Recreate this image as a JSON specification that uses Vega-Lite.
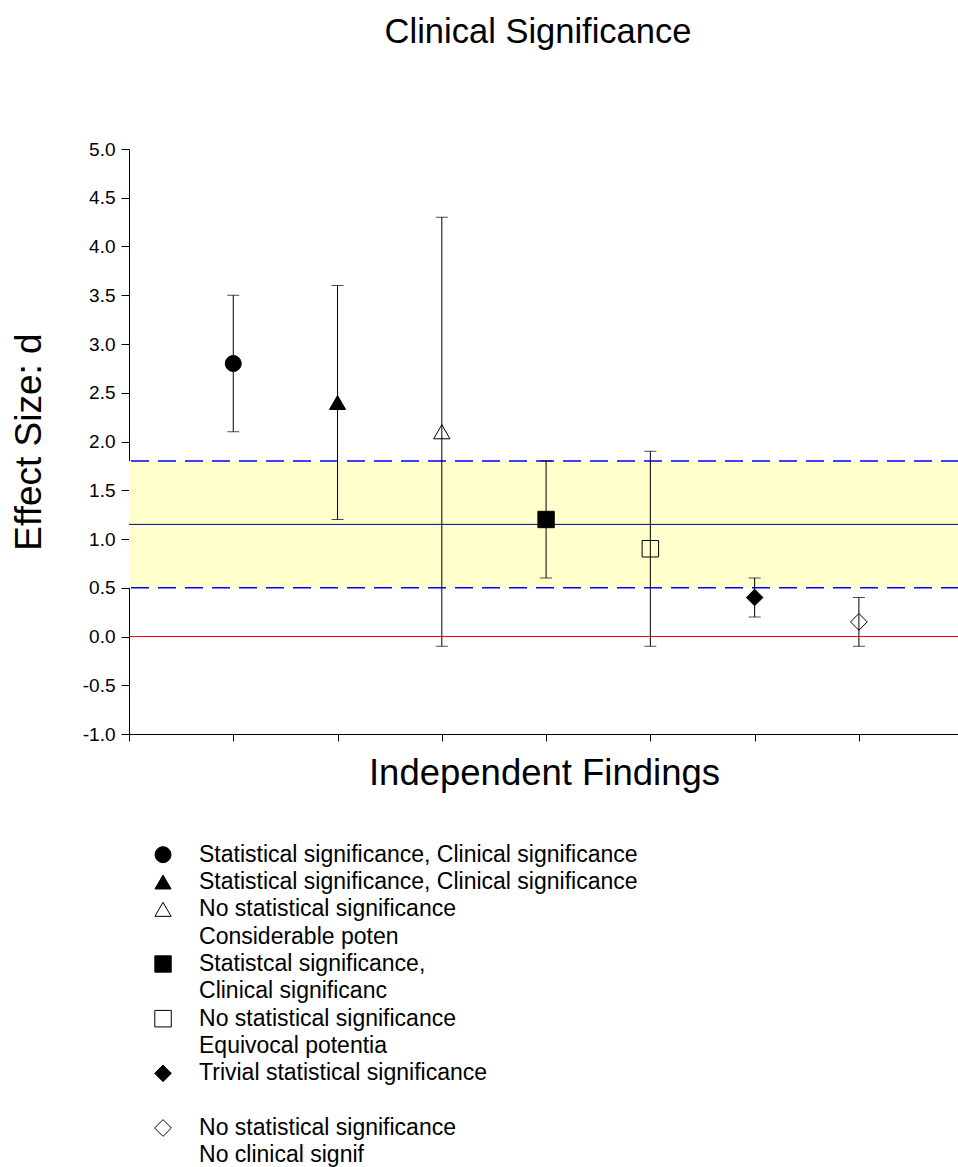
{
  "$schema": "https://vega.github.io/schema/vega-lite/v6.json",
  "background": "white",
  "padding": {"left": 10, "top": 14, "right": 0, "bottom": 0},
  "spacing": 49,
  "config": {
    "view": {"stroke": null},
    "font": "Liberation Sans",
    "axis": {
      "domainColor": "black",
      "tickColor": "black",
      "labelColor": "black",
      "titleColor": "black",
      "labelFont": "Liberation Sans",
      "titleFont": "Liberation Sans",
      "titleFontWeight": "normal",
      "grid": false
    }
  },
  "datasets": {
    "findings": [
      {"finding": 1, "marker": "filled circle", "d": 2.8, "lo": 2.1, "hi": 3.5},
      {"finding": 2, "marker": "filled triangle", "d": 2.4, "lo": 1.2, "hi": 3.6},
      {"finding": 3, "marker": "open triangle", "d": 2.1, "lo": -0.1, "hi": 4.3},
      {"finding": 4, "marker": "filled square", "d": 1.2, "lo": 0.6, "hi": 1.8},
      {"finding": 5, "marker": "open square", "d": 0.9, "lo": -0.1, "hi": 1.9},
      {"finding": 6, "marker": "filled diamond", "d": 0.4, "lo": 0.2, "hi": 0.6},
      {"finding": 7, "marker": "open diamond", "d": 0.15, "lo": -0.1, "hi": 0.4}
    ],
    "band": [{"lo": 0.5, "hi": 1.8}],
    "refs": [
      {"value": 0.5, "kind": "band limit"},
      {"value": 1.8, "kind": "band limit"},
      {"value": 1.15, "kind": "mean"},
      {"value": 0, "kind": "zero"}
    ],
    "legend": [
      {"line": 0, "marker": "filled circle", "text": "Statistical significance, Clinical significance"},
      {"line": 1, "marker": "filled triangle", "text": "Statistical significance, Clinical significance"},
      {"line": 2, "marker": "open triangle", "text": "No statistical significance"},
      {"line": 3, "marker": null, "text": "Considerable poten"},
      {"line": 4, "marker": "filled square", "text": "Statistcal significance,"},
      {"line": 5, "marker": null, "text": "Clinical significanc"},
      {"line": 6, "marker": "open square", "text": "No statistical significance"},
      {"line": 7, "marker": null, "text": "Equivocal potentia"},
      {"line": 8, "marker": "filled diamond", "text": "Trivial statistical significance"},
      {"line": 10, "marker": "open diamond", "text": "No statistical significance"},
      {"line": 11, "marker": null, "text": "No clinical signif"}
    ]
  },
  "vconcat": [
    {
      "width": 830,
      "height": 585,
      "title": {
        "text": "Clinical Significance",
        "fontSize": 34.5,
        "font": "Liberation Sans",
        "fontWeight": "normal",
        "color": "black",
        "frame": "group",
        "anchor": "middle",
        "offset": 90,
        "dx": -6
      },
      "layer": [
        {
          "data": {"name": "band"},
          "mark": {"type": "rect", "fill": "#FFFFCC", "stroke": null},
          "encoding": {
            "x": {"datum": 0, "type": "quantitative", "scale": {"domain": [0, 7.96], "nice": false, "zero": false}},
            "x2": {"datum": 7.96},
            "y": {"field": "lo", "type": "quantitative", "scale": {"domain": [-1, 5], "nice": false, "zero": false}},
            "y2": {"field": "hi"}
          }
        },
        {
          "data": {"name": "refs"},
          "transform": [{"filter": "datum.kind == 'band limit'"}],
          "mark": {"type": "rule", "color": "#0000FF", "strokeWidth": 1.3, "strokeDash": [18, 9]},
          "encoding": {"y": {"field": "value", "type": "quantitative"}}
        },
        {
          "data": {"name": "refs"},
          "transform": [{"filter": "datum.kind == 'mean'"}],
          "mark": {"type": "rule", "color": "#0000B0", "strokeWidth": 1},
          "encoding": {"y": {"field": "value", "type": "quantitative"}}
        },
        {
          "data": {"name": "refs"},
          "transform": [{"filter": "datum.kind == 'zero'"}],
          "mark": {"type": "rule", "color": "#FF0000", "strokeWidth": 1},
          "encoding": {"y": {"field": "value", "type": "quantitative"}}
        },
        {
          "data": {"name": "findings"},
          "mark": {"type": "rule", "color": "black", "strokeWidth": 1},
          "encoding": {
            "x": {"field": "finding", "type": "quantitative"},
            "y": {"field": "lo", "type": "quantitative"},
            "y2": {"field": "hi"}
          }
        },
        {
          "data": {"name": "findings"},
          "mark": {"type": "tick", "orient": "horizontal", "size": 12, "thickness": 1, "color": "black"},
          "encoding": {
            "x": {"field": "finding", "type": "quantitative"},
            "y": {"field": "lo", "type": "quantitative"}
          }
        },
        {
          "data": {"name": "findings"},
          "mark": {"type": "tick", "orient": "horizontal", "size": 12, "thickness": 1, "color": "black"},
          "encoding": {
            "x": {"field": "finding", "type": "quantitative"},
            "y": {"field": "hi", "type": "quantitative"}
          }
        },
        {
          "data": {"name": "findings"},
          "mark": {"type": "point", "filled": true, "stroke": "black", "strokeWidth": 1, "opacity": 1},
          "encoding": {
            "x": {
              "field": "finding",
              "type": "quantitative",
              "axis": {
                "values": [0, 1, 2, 3, 4, 5, 6, 7],
                "labels": false,
                "tickSize": 7,
                "title": "Independent Findings",
                "titleFontSize": 36.5,
                "titlePadding": 14
              }
            },
            "y": {
              "field": "d",
              "type": "quantitative",
              "axis": {
                "values": [-1, -0.5, 0, 0.5, 1, 1.5, 2, 2.5, 3, 3.5, 4, 4.5, 5],
                "labelExpr": "replace(format(datum.value, '.1f'), '−', '-')",
                "labelFontSize": 19,
                "labelPadding": 6,
                "tickSize": 8,
                "title": "Effect Size: d",
                "titleFontSize": 37,
                "titlePadding": 34
              }
            },
            "shape": {
              "field": "marker",
              "type": "nominal",
              "legend": null,
              "scale": {
                "domain": ["filled circle", "filled triangle", "open triangle", "filled square", "open square", "filled diamond", "open diamond"],
                "range": ["circle", "triangle-up", "triangle-up", "square", "square", "diamond", "diamond"]
              }
            },
            "fill": {
              "field": "marker",
              "type": "nominal",
              "legend": null,
              "scale": {
                "domain": ["filled circle", "filled triangle", "open triangle", "filled square", "open square", "filled diamond", "open diamond"],
                "range": ["black", "black", "transparent", "black", "transparent", "black", "transparent"]
              }
            },
            "size": {
              "field": "marker",
              "type": "nominal",
              "legend": null,
              "scale": {
                "domain": ["filled circle", "filled triangle", "open triangle", "filled square", "open square", "filled diamond", "open diamond"],
                "range": [256, 280, 280, 210, 210, 380, 380]
              }
            }
          }
        }
      ]
    },
    {
      "width": 830,
      "height": 328,
      "data": {"name": "legend"},
      "encoding": {
        "y": {"field": "line", "type": "quantitative", "scale": {"domain": [-0.5, 11.5], "reverse": true, "nice": false, "zero": false}, "axis": null}
      },
      "layer": [
        {
          "transform": [{"filter": "datum.marker != null"}],
          "mark": {"type": "point", "filled": true, "stroke": "black", "strokeWidth": 1, "opacity": 1},
          "encoding": {
            "x": {"datum": 0.328, "type": "quantitative", "scale": {"domain": [0, 8], "nice": false, "zero": false}, "axis": null},
            "shape": {
              "field": "marker",
              "type": "nominal",
              "legend": null,
              "scale": {
                "domain": ["filled circle", "filled triangle", "open triangle", "filled square", "open square", "filled diamond", "open diamond"],
                "range": ["circle", "triangle-up", "triangle-up", "square", "square", "diamond", "diamond"]
              }
            },
            "fill": {
              "field": "marker",
              "type": "nominal",
              "legend": null,
              "scale": {
                "domain": ["filled circle", "filled triangle", "open triangle", "filled square", "open square", "filled diamond", "open diamond"],
                "range": ["black", "black", "transparent", "black", "transparent", "black", "transparent"]
              }
            },
            "size": {
              "field": "marker",
              "type": "nominal",
              "legend": null,
              "scale": {
                "domain": ["filled circle", "filled triangle", "open triangle", "filled square", "open square", "filled diamond", "open diamond"],
                "range": [256, 280, 280, 210, 210, 380, 380]
              }
            }
          }
        },
        {
          "mark": {"type": "text", "align": "left", "baseline": "middle", "fontSize": 23, "font": "Liberation Sans", "color": "black"},
          "encoding": {
            "x": {"datum": 0.675, "type": "quantitative"},
            "text": {"field": "text", "type": "nominal"}
          }
        }
      ]
    }
  ]
}
